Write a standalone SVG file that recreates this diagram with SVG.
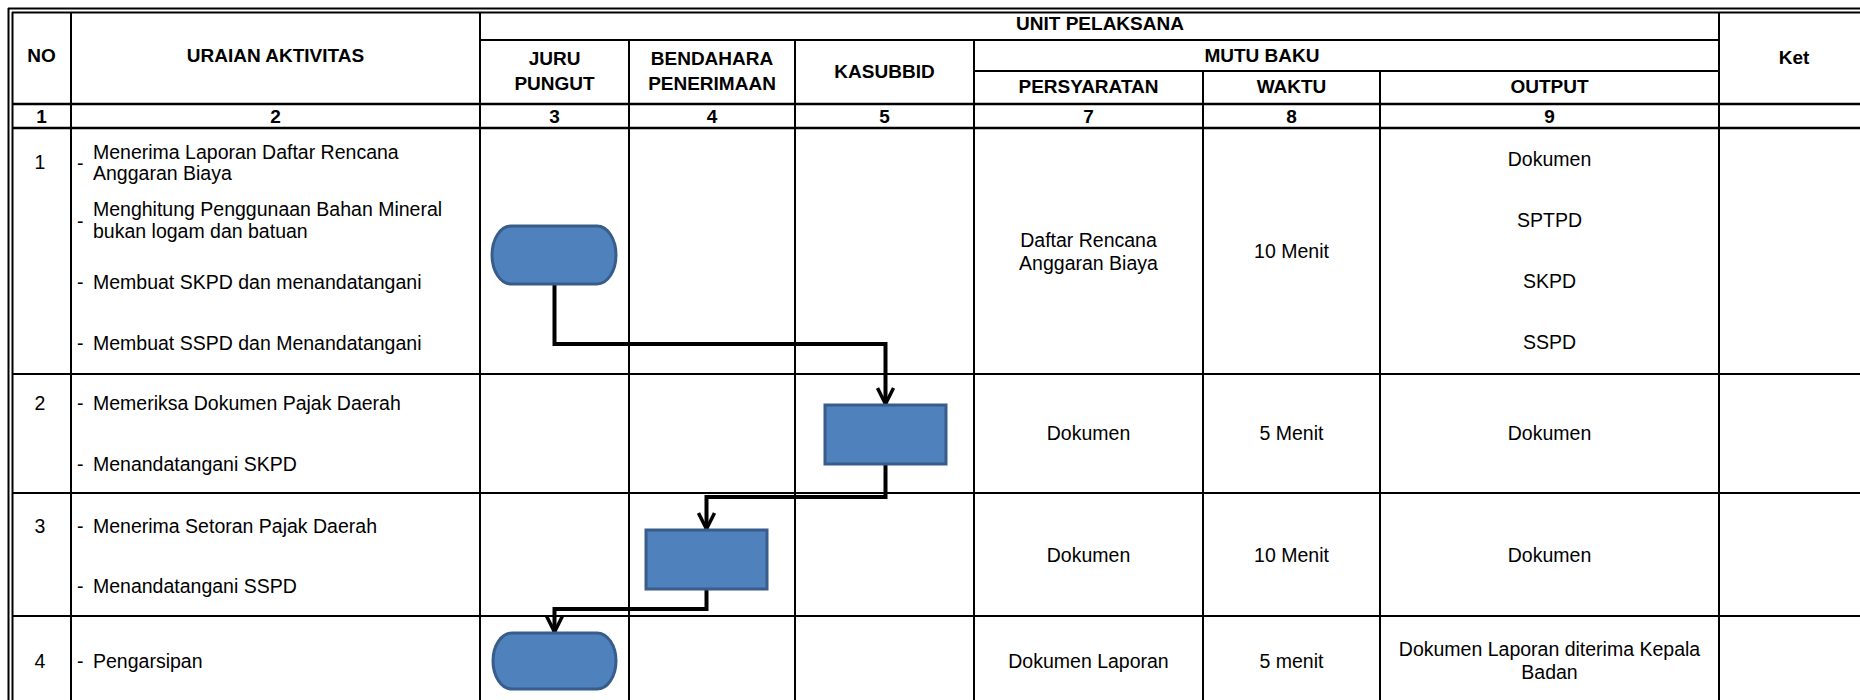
<svg xmlns="http://www.w3.org/2000/svg" width="1860" height="700" viewBox="0 0 1860 700">
<defs>
<style>
.h{font-family:"Liberation Sans",Arial,sans-serif;font-size:19px;font-weight:bold;fill:#000;text-anchor:middle}
.t{font-family:"Liberation Sans",Arial,sans-serif;font-size:19.5px;fill:#000}
.c{text-anchor:middle}
.g{stroke:#000;stroke-width:2;fill:none}
.gt{stroke:#000;stroke-width:2.5;fill:none}
.gr{stroke:#000;stroke-width:1.8;fill:none}
.shape{fill:#4F81BD;stroke:#385D8A;stroke-width:3}
.conn{fill:none;stroke:#000;stroke-width:4;stroke-linejoin:miter}
</style>
<marker id="arr" viewBox="0 0 20 20" markerUnits="userSpaceOnUse" markerWidth="20" markerHeight="20" refX="17" refY="10" orient="auto">
<path d="M1,2 L17,10 L1,18" fill="none" stroke="#000" stroke-width="3.5"/>
</marker>
</defs>
<rect width="1860" height="700" fill="#fff"/>

<g id="table">
<line class="g" x1="8" y1="8.5" x2="1860" y2="8.5"/>
<line class="g" x1="8.5" y1="8" x2="8.5" y2="700"/>
<line class="g" x1="12" y1="12.5" x2="1860" y2="12.5"/>
<line class="g" x1="12.5" y1="12" x2="12.5" y2="700"/>
<line class="g" x1="71" y1="12" x2="71" y2="700"/>
<line class="g" x1="480" y1="12" x2="480" y2="700"/>
<line class="g" x1="629" y1="40" x2="629" y2="700"/>
<line class="g" x1="795" y1="40" x2="795" y2="700"/>
<line class="g" x1="974" y1="40" x2="974" y2="700"/>
<line class="g" x1="1203" y1="71" x2="1203" y2="700"/>
<line class="g" x1="1380" y1="71" x2="1380" y2="700"/>
<line class="g" x1="1719" y1="12" x2="1719" y2="700"/>
<line class="g" x1="480" y1="40" x2="1719" y2="40"/>
<line class="g" x1="974" y1="71" x2="1719" y2="71"/>
<line class="gt" x1="12" y1="104" x2="1860" y2="104"/>
<line class="gt" x1="12" y1="128" x2="1860" y2="128"/>
<line class="gr" x1="12" y1="374" x2="1860" y2="374"/>
<line class="gr" x1="12" y1="493" x2="1860" y2="493"/>
<line class="gr" x1="12" y1="616" x2="1860" y2="616"/>
</g>

<g id="header">
<text class="h" x="41.5" y="62">NO</text>
<text class="h" x="275.5" y="62">URAIAN AKTIVITAS</text>
<text class="h" x="1100" y="30">UNIT PELAKSANA</text>
<text class="h" x="554.5" y="65">JURU</text>
<text class="h" x="554.5" y="90">PUNGUT</text>
<text class="h" x="712" y="65">BENDAHARA</text>
<text class="h" x="712" y="90">PENERIMAAN</text>
<text class="h" x="884.5" y="78">KASUBBID</text>
<text class="h" x="1262" y="62">MUTU BAKU</text>
<text class="h" x="1088.5" y="93">PERSYARATAN</text>
<text class="h" x="1291.5" y="93">WAKTU</text>
<text class="h" x="1549.5" y="93">OUTPUT</text>
<text class="h" x="1794" y="64">Ket</text>
<text class="h" x="41.5" y="123">1</text>
<text class="h" x="275.5" y="123">2</text>
<text class="h" x="554.5" y="123">3</text>
<text class="h" x="712" y="123">4</text>
<text class="h" x="884.5" y="123">5</text>
<text class="h" x="1088.5" y="123">7</text>
<text class="h" x="1291.5" y="123">8</text>
<text class="h" x="1549.5" y="123">9</text>
</g>

<g id="row1">
<text class="t c" x="40" y="169">1</text>
<text class="t" x="77" y="170">-</text>
<text class="t" x="93" y="159">Menerima Laporan Daftar Rencana</text>
<text class="t" x="93" y="180">Anggaran Biaya</text>
<text class="t" x="77" y="228">-</text>
<text class="t" x="93" y="216">Menghitung Penggunaan Bahan Mineral</text>
<text class="t" x="93" y="238">bukan logam dan batuan</text>
<text class="t" x="77" y="289">-</text>
<text class="t" x="93" y="289">Membuat SKPD dan menandatangani</text>
<text class="t" x="77" y="350">-</text>
<text class="t" x="93" y="350">Membuat SSPD dan Menandatangani</text>
<text class="t c" x="1088.5" y="247">Daftar Rencana</text>
<text class="t c" x="1088.5" y="270">Anggaran Biaya</text>
<text class="t c" x="1291.5" y="258">10 Menit</text>
<text class="t c" x="1549.5" y="166">Dokumen</text>
<text class="t c" x="1549.5" y="227">SPTPD</text>
<text class="t c" x="1549.5" y="288">SKPD</text>
<text class="t c" x="1549.5" y="349">SSPD</text>
</g>

<g id="row2">
<text class="t c" x="40" y="410">2</text>
<text class="t" x="77" y="410">-</text>
<text class="t" x="93" y="410">Memeriksa Dokumen Pajak Daerah</text>
<text class="t" x="77" y="471">-</text>
<text class="t" x="93" y="471">Menandatangani SKPD</text>
<text class="t c" x="1088.5" y="440">Dokumen</text>
<text class="t c" x="1291.5" y="440">5 Menit</text>
<text class="t c" x="1549.5" y="440">Dokumen</text>
</g>

<g id="row3">
<text class="t c" x="40" y="533">3</text>
<text class="t" x="77" y="533">-</text>
<text class="t" x="93" y="533">Menerima Setoran Pajak Daerah</text>
<text class="t" x="77" y="593">-</text>
<text class="t" x="93" y="593">Menandatangani SSPD</text>
<text class="t c" x="1088.5" y="562">Dokumen</text>
<text class="t c" x="1291.5" y="562">10 Menit</text>
<text class="t c" x="1549.5" y="562">Dokumen</text>
</g>

<g id="row4">
<text class="t c" x="40" y="668">4</text>
<text class="t" x="77" y="668">-</text>
<text class="t" x="93" y="668">Pengarsipan</text>
<text class="t c" x="1088.5" y="668">Dokumen Laporan</text>
<text class="t c" x="1291.5" y="668">5 menit</text>
<text class="t c" x="1549.5" y="656">Dokumen Laporan diterima Kepala</text>
<text class="t c" x="1549.5" y="679">Badan</text>
</g>

<g id="connectors">
<path class="conn" d="M554.5,284 V344 H885.5 V404" marker-end="url(#arr)"/>
<path class="conn" d="M885.5,464 V497 H706.5 V529" marker-end="url(#arr)"/>
<path class="conn" d="M706.5,589 V609 H554.5 V632" marker-end="url(#arr)"/>
</g>

<g id="node-start">
<rect class="shape" x="492" y="226" width="124" height="58" rx="19" ry="29"/>
</g>
<g id="node-kasubbid">
<rect class="shape" x="825" y="405" width="121" height="59"/>
</g>
<g id="node-bendahara">
<rect class="shape" x="646" y="530" width="121" height="59"/>
</g>
<g id="node-end">
<rect class="shape" x="493" y="633" width="123" height="56" rx="19" ry="28"/>
</g>
</svg>
